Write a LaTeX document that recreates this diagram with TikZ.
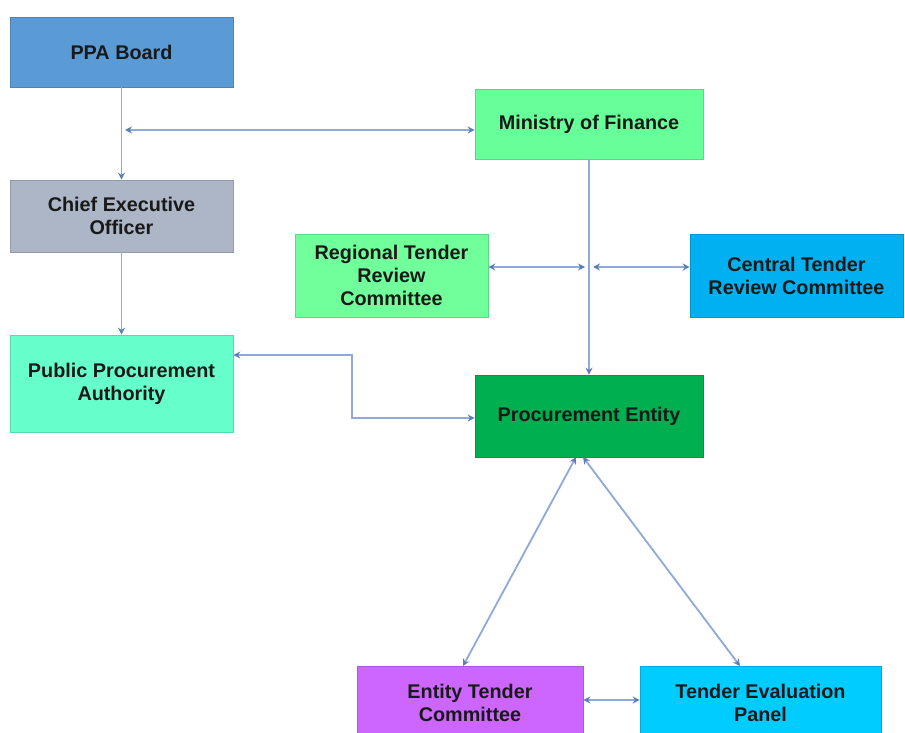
\documentclass[tikz,border=0pt]{standalone}
\usepackage{fontspec}
\setmainfont{Liberation Sans}
\usetikzlibrary{arrows.meta}
\definecolor{cppa}{HTML}{5B9BD5}
\definecolor{cceo}{HTML}{ACB6C6}
\definecolor{cmof}{HTML}{66FF99}
\definecolor{creg}{HTML}{70FF9A}
\definecolor{ccen}{HTML}{00B0F0}
\definecolor{cpau}{HTML}{66FFCC}
\definecolor{cpe}{HTML}{00B050}
\definecolor{cetc}{HTML}{CC66FF}
\definecolor{ctep}{HTML}{00CCFF}
\definecolor{cline}{HTML}{8EAAD8}
\definecolor{ctip}{HTML}{5A7FB8}
\tikzset{
  box/.style={rectangle, inner sep=0pt, align=center, text=black!90,
    font=\fontsize{19.8}{23}\selectfont\bfseries, draw=#1!85!black, line width=0.6pt, fill=#1},
  conn/.style={draw=cline, line width=1.8pt},
  tip/.style={{Stealth[length=7pt,width=7pt,fill=ctip,color=ctip]}-{Stealth[length=7pt,width=7pt,fill=ctip,color=ctip]}},
  tipend/.style={-{Stealth[length=7pt,width=7pt,fill=ctip,color=ctip]}}
}
\begin{document}
\begin{tikzpicture}[x=1pt,y=-1pt]
\useasboundingbox[fill=white] (0,0) rectangle (905,733);
\node[box=cppa, minimum width=223pt, minimum height=70pt] (ppa) at (121.5,52) {PPA Board};
\node[box=cceo, minimum width=223pt, minimum height=72pt] (ceo) at (121.5,216) {Chief Executive\\Officer};
\node[box=cmof, minimum width=228pt, minimum height=70pt] (mof) at (589,124) {Ministry of Finance};
\node[box=creg, minimum width=193pt, minimum height=83pt] (reg) at (391.5,275.5) {Regional Tender\\Review\\Committee};
\node[box=ccen, minimum width=213pt, minimum height=83pt] (cen) at (796.5,275.5) {Central Tender\\Review Committee};
\node[box=cpau, minimum width=223pt, minimum height=97pt] (pau) at (121.5,383.5) {Public Procurement\\Authority};
\node[box=cpe, minimum width=228pt, minimum height=82pt] (pe) at (589,416) {Procurement Entity};
\node[box=cetc, minimum width=226pt, minimum height=74pt] (etc) at (470,703) {Entity Tender\\Committee};
\node[box=ctep, minimum width=241pt, minimum height=74pt] (tep) at (760.5,703) {Tender Evaluation\\Panel};

\coordinate (h1) at (125,130);
\coordinate (rl) at (585,267);
\coordinate (rr) at (593,267);
\coordinate (pe1) at (576,457);
\coordinate (pe2) at (583,457);
\coordinate (etop) at (463,666);
\coordinate (ttop) at (740,666);

\draw[conn, tipend] (ppa.south) -- (ceo.north);
\draw[conn, tipend] (ceo.south) -- (pau.north);
\draw[conn, tip] (h1) -- (h1 -| mof.west);
\draw[conn, tipend] (mof.south) -- (pe.north);
\draw[conn, tip] (reg.east |- rl) -- (rl);
\draw[conn, tip] (rr) -- (rr -| cen.west);
\draw[conn, tip] (pau.east |- 0,355) -- (352,355) -- (352,418) -- (pe.west |- 0,418);
\draw[conn, tip] (pe1) -- (etop);
\draw[conn, tip] (pe2) -- (ttop);
\draw[conn, tip] (etc.east |- 0,700) -- (tep.west |- 0,700);
\end{tikzpicture}
\end{document}
